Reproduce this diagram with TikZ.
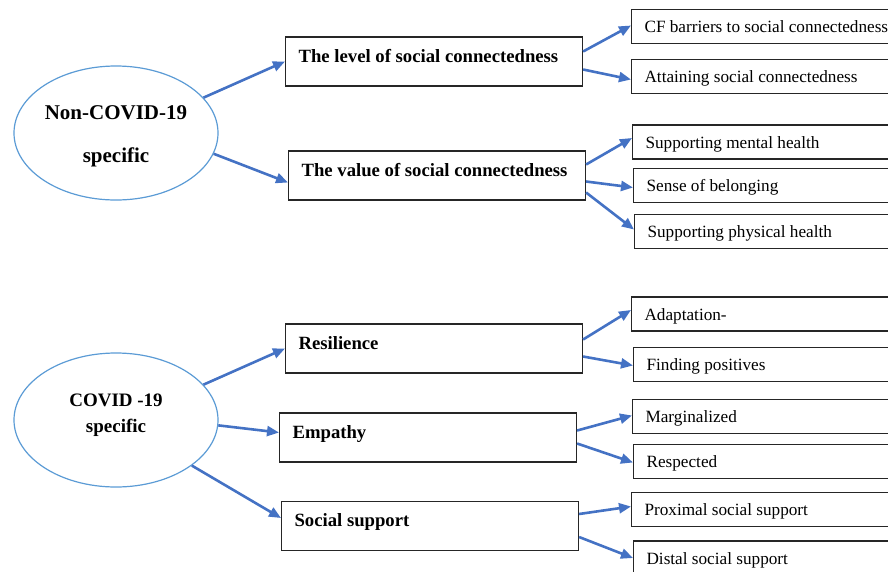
\documentclass[tikz,border=0pt]{standalone}
\usepackage{fontspec}
\setmainfont{Liberation Serif}
\usepackage{tikz}
\usetikzlibrary{shapes.geometric, arrows.meta}
\definecolor{linkblue}{RGB}{68,114,196}
\definecolor{ovalblue}{RGB}{91,155,213}

\begin{document}
\begin{tikzpicture}[x=1pt, y=-1pt,
  oval/.style={ellipse, draw=ovalblue, line width=1.2pt, minimum width=204pt, minimum height=134pt,
               inner sep=0pt, align=center},
  theme/.style={rectangle, draw=black!85, line width=1.1pt, anchor=west, inner xsep=13pt, inner ysep=0pt,
                text width=271pt, align=flush left, text height=25pt, text depth=24pt,
                font=\fontsize{18.7}{22}\selectfont\bfseries},
  sub/.style={rectangle, draw=black!85, line width=1.1pt, anchor=west, inner xsep=13pt, inner ysep=0pt,
              text width=262pt, align=flush left, text height=23pt, text depth=11pt,
              font=\fontsize{17.2}{20}\selectfont},
  arr/.style={-{Triangle[length=12pt,width=10pt]}, line width=2.6pt, linkblue}
]
  \useasboundingbox (0,0) rectangle (888,571);
  \clip (0,0) rectangle (888,571);

  % Top level groups
  \node[oval, text height=62pt, text depth=4pt, font=\fontsize{21}{43}\selectfont\bfseries]
    (noncovid) at (116,133) {Non-COVID-19\\specific};
  \node[oval, text height=30pt, text depth=6pt, font=\fontsize{19}{26}\selectfont\bfseries]
    (covid) at (116,420) {COVID -19\\specific};

  % Themes
  \node[theme] (level)   at (285,61.5)  {The level of social connectedness};
  \node[theme] (value)   at (288,175.5) {The value of social connectedness};
  \node[theme] (resil)   at (285,348.5) {Resilience};
  \node[theme] (empathy) at (279,437.5) {Empathy};
  \node[theme] (support) at (281,526)   {Social support};

  % Subthemes
  \node[sub] (barriers)  at (631,26.5)  {CF barriers to social connectedness};
  \node[sub] (attain)    at (631,76.5)  {Attaining social connectedness};
  \node[sub] (mental)    at (632,142)   {Supporting mental health};
  \node[sub] (belong)    at (633,185.5) {Sense of belonging};
  \node[sub] (physical)  at (634,231.5) {Supporting physical health};
  \node[sub] (adapt)     at (631,314)   {Adaptation-};
  \node[sub] (positives) at (633,364.5) {Finding positives};
  \node[sub] (margin)    at (632,416.5) {Marginalized};
  \node[sub] (respect)   at (633,461.5) {Respected};
  \node[sub] (proximal)  at (631,509.5) {Proximal social support};
  \node[sub] (distal)    at (633,558)   {Distal social support};

  % Groups to themes
  \draw[arr] (noncovid.22) -- (level.west);
  \draw[arr] (noncovid.-12) -- ([yshift=-7pt]value.west);
  \draw[arr] (covid.22) -- (resil.west);
  \draw[arr] (covid.-3) -- ([yshift=5pt]empathy.west);
  \draw[arr] (covid.-31) -- ([yshift=8pt]support.west);

  % Themes to subthemes
  \draw[arr] ([yshift=10pt]level.east) -- ([yshift=1pt]barriers.west);
  \draw[arr] ([yshift=-8pt]level.east) -- ([yshift=-3pt]attain.west);
  \draw[arr] ([yshift=11pt]value.east) -- ([yshift=4pt]mental.west);
  \draw[arr] ([yshift=-6pt]value.east) -- ([yshift=-2pt]belong.west);
  \draw[arr] ([yshift=-17pt]value.east) -- ([yshift=2pt]physical.west);
  \draw[arr] ([yshift=9pt]resil.east) -- ([yshift=4pt]adapt.west);
  \draw[arr] ([yshift=-8pt]resil.east) -- ([yshift=-1pt]positives.west);
  \draw[arr] ([yshift=7pt]empathy.east) -- ([yshift=1pt]margin.west);
  \draw[arr] ([yshift=-6pt]empathy.east) -- ([yshift=-1pt]respect.west);
  \draw[arr] ([yshift=12pt]support.east) -- ([yshift=3pt]proximal.west);
  \draw[arr] ([yshift=-11pt]support.east) -- (distal.west);
\end{tikzpicture}
\end{document}
